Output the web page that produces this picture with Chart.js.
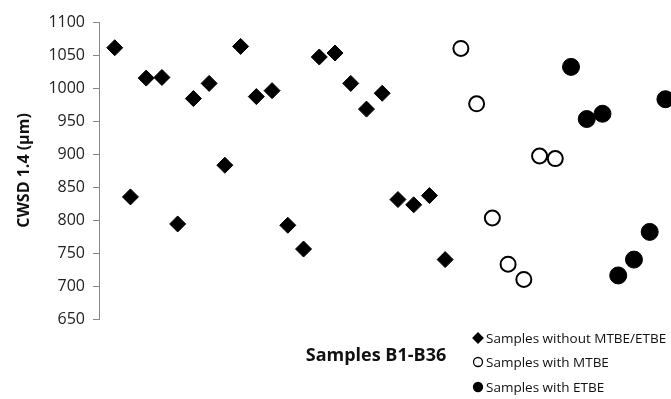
<!DOCTYPE html>
<html>
<head>
<meta charset="utf-8">
<script src="https://cdn.jsdelivr.net/npm/chart.js@4.4.1/dist/chart.umd.min.js"></script>
<style>
  html, body { margin: 0; padding: 0; background: #fff; }
  #wrap { width: 671px; height: 399px; }
</style>
</head>
<body>
<div id="wrap"><canvas id="myChart" width="671" height="399"></canvas></div>
<script>
// samples B1-B36, in plotting order
var samples = ['B1','B2','B3','B4','B5','B6','B7','B8','B9','B10','B11','B12',
               'B13','B14','B15','B16','B17','B18','B19','B20','B21','B22','B23','B24',
               'B25','B26','B27','B28','B29','B30','B31','B32','B33','B34','B35','B36'];

// CWSD 1.4 (µm)
var noneSamples = samples.slice(0, 22);
var noneValues = [1061, 835, 1015, 1016, 794, 984, 1007, 883, 1063, 987, 996,
                  792, 756, 1047, 1053, 1007, 968, 992, 831, 823, 837, 740];
var mtbeSamples = samples.slice(22, 29);
var mtbeValues = [1060, 976, 803, 733, 710, 897, 893];
var etbeSamples = samples.slice(29, 36);
var etbeValues = [1032, 953, 961, 716, 740, 782, 983];

var yTicks = [650, 700, 750, 800, 850, 900, 950, 1000, 1050, 1100];

function toPoints(names, values) {
    return names.map(function (n, i) {
        return { x: samples.indexOf(n) + 1, y: values[i] };
    });
}

var fontFam = '"Open Sans", sans-serif';

// x axis title + legend under the plot
var extras = {
    id: 'extras',
    afterDraw: function (chart) {
        var ctx = chart.ctx;
        ctx.save();
        ctx.fillStyle = '#111';
        ctx.font = 'bold 18px ' + fontFam;
        ctx.textAlign = 'center';
        ctx.textBaseline = 'middle';
        ctx.fillText('Samples B1-B36', 376, 356);

        var rows = [338, 362, 387];
        ctx.font = '13.5px ' + fontFam;
        ctx.textAlign = 'left';
        chart.data.datasets.forEach(function (ds, i) {
            var y = rows[i], x = 478;
            ctx.beginPath();
            if (ds.pointStyle === 'rectRot') {
                ctx.moveTo(x - 5, y); ctx.lineTo(x, y - 5);
                ctx.lineTo(x + 5, y); ctx.lineTo(x, y + 5);
                ctx.closePath();
            } else {
                ctx.arc(x, y, 4.5, 0, Math.PI * 2);
            }
            ctx.fillStyle = ds.backgroundColor;
            ctx.fill();
            ctx.lineWidth = 1.3;
            ctx.strokeStyle = '#000';
            ctx.stroke();
            ctx.fillStyle = '#111';
            ctx.fillText(ds.label, 486, y + 1);
        });
        ctx.restore();
    }
};

var ctx = document.getElementById('myChart').getContext('2d');
var myChart = new Chart(ctx, {
    type: 'scatter',
    data: {
        datasets: [{
            label: 'Samples without MTBE/ETBE',
            data: toPoints(noneSamples, noneValues),
            pointStyle: 'rectRot',
            pointRadius: 8,
            backgroundColor: '#000',
            borderColor: '#000',
            borderWidth: 1
        }, {
            label: 'Samples with MTBE',
            data: toPoints(mtbeSamples, mtbeValues),
            pointStyle: 'circle',
            pointRadius: 7.5,
            backgroundColor: '#fff',
            borderColor: '#000',
            borderWidth: 2
        }, {
            label: 'Samples with ETBE',
            data: toPoints(etbeSamples, etbeValues),
            pointStyle: 'circle',
            pointRadius: 8.5,
            backgroundColor: '#000',
            borderColor: '#000',
            borderWidth: 1
        }]
    },
    options: {
        responsive: false,
        animation: false,
        clip: false,
        layout: { padding: { top: 22, right: 0, bottom: 80, left: 0 } },
        plugins: {
            legend: { display: false },
            tooltip: { enabled: false }
        },
        scales: {
            x: {
                type: 'linear',
                display: false,
                min: 0,
                max: 35.75
            },
            y: {
                min: 650,
                max: 1100,
                afterFit: function (scale) { scale.width = 99; },
                afterBuildTicks: function (scale) {
                    scale.ticks = yTicks.map(function (v) { return { value: v }; });
                },
                ticks: {
                    color: '#222',
                    padding: 8,
                    font: { family: fontFam, size: 16 },
                    callback: function (v) { return String(v); }
                },
                grid: {
                    drawOnChartArea: false,
                    drawTicks: true,
                    tickLength: 6,
                    color: '#888'
                },
                border: { display: true, color: '#888', width: 1 },
                title: {
                    display: true,
                    text: 'CWSD 1.4 (µm)',
                    color: '#111',
                    padding: { top: 15, bottom: 0 },
                    font: { family: fontFam, size: 16, weight: 'bold' }
                }
            }
        }
    },
    plugins: [extras]
});
</script>
</body>
</html>
